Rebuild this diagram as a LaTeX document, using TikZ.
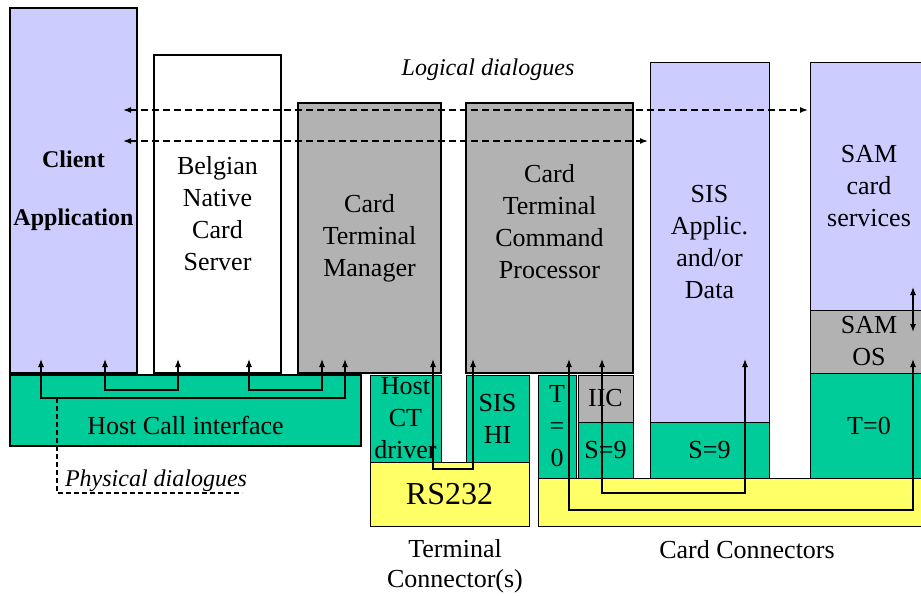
\documentclass[tikz,border=0pt]{standalone}
\usepackage{fontspec}
\setmainfont{Liberation Serif}
\usetikzlibrary{arrows.meta}
\definecolor{lav}{HTML}{CCCCFF}
\definecolor{grey}{HTML}{B2B2B2}
\definecolor{grn}{HTML}{00CC99}
\definecolor{yel}{HTML}{FFFF66}
\begin{document}
\begin{tikzpicture}[x=1pt,y=-1pt,>={Latex[length=8pt,width=6pt]},
  big/.style={draw, line width=2.5pt},
  small/.style={draw, line width=1pt},
  lbl/.style={font=\fontsize{26}{32}\selectfont, align=center, inner sep=0pt},
  link/.style={<->, line width=1.2pt},
  dlg/.style={line width=1.5pt, dash pattern=on 7pt off 4pt}]
\useasboundingbox (0,0) rectangle (921,596);
{\centering
% upper layer
\draw[big, fill=lav] (10,8) rectangle node[lbl, font=\fontsize{24}{29}\selectfont\bfseries] (client) {Client\\[29pt]Application} (137,373);
\draw[big, fill=white] (154,55) rectangle node[lbl] (server) {Belgian\\Native\\Card\\Server} (281,373);
\draw[big, fill=grey] (298,103) rectangle node[lbl] (ctm) {Card\\Terminal\\Manager} (441,373);
\draw[big, fill=grey] (466,103) rectangle node[lbl, yshift=16pt] (ctcp) {Card\\Terminal\\Command\\Processor} (633,373);
\draw[small, fill=lav] (650,63) rectangle node[lbl] (sis) {SIS\\Applic.\\and/or\\Data} (769,422);
\draw[small, fill=lav] (810,63) rectangle node[lbl] (sam) {SAM\\card\\services} (928,310);
\draw[small, fill=grey] (810,310) rectangle node[lbl] (samos) {SAM\\OS} (928,373);
% lower layer
\draw[big, fill=grn] (10,375) rectangle node[lbl, yshift=-15pt] (hci) {Host Call interface} (361,446);
\draw[small, fill=grn] (370,375) rectangle node[lbl] (ctdrv) {Host\\CT\\driver} (441,462);
\draw[small, fill=grn] (466,375) rectangle node[lbl] (sishi) {SIS\\HI} (529,462);
\draw[small, fill=yel] (370,462) rectangle node[lbl, font=\fontsize{32}{38}\selectfont] (rs) {RS232} (529,526);
\draw[small, fill=grn] (538,375) rectangle node[lbl] (tzero) {T\\=\\0} (576,478);
\draw[small, fill=grey] (578,375) rectangle node[lbl] (iic) {IIC} (633,422);
\draw[small, fill=grn] (578,422) rectangle node[lbl] (sninea) {S=9} (633,478);
\draw[small, fill=grn] (650,422) rectangle node[lbl] (snineb) {S=9} (769,478);
\draw[small, fill=grn] (810,373) rectangle node[lbl] (samt) {T=0} (928,478);
\draw[small, fill=yel] (538,478) rectangle (928,526);
% arrow ends
\coordinate (cl-a) at (41,359);
\coordinate (cl-b) at (105,359);
\coordinate (bn-a) at (178,359);
\coordinate (bn-b) at (249,359);
\coordinate (tm-a) at (322,359);
\coordinate (tm-b) at (345,359);
\coordinate (tm-c) at (433,359);
\coordinate (cp-a) at (473,359);
\coordinate (cp-b) at (569,359);
\coordinate (cp-c) at (602,359);
\coordinate (sis-a) at (745,359);
\coordinate (os-a) at (913,359);
\coordinate (sv-a) at (913,287);
\coordinate (sv-b) at (913,332);
\draw[link] (cl-a) -- ++(0,39) -| (tm-b);
\draw[link] (cl-b) -- ++(0,31) -| (bn-a);
\draw[link] (bn-b) -- ++(0,31) -| (tm-a);
\draw[link] (tm-c) -- ++(0,110) -| (cp-a);
\draw[link] (cp-b) -- ++(0,151) -| (os-a);
\draw[link] (cp-c) -- ++(0,134) -| (sis-a);
\draw[link] (sv-a) -- (sv-b);
% dialogues
\coordinate (lg-l1) at (123,110);
\coordinate (lg-r1) at (808,110);
\coordinate (lg-l2) at (123,141);
\coordinate (lg-r2) at (648,141);
\draw[dlg, <->] (lg-l1) -- (lg-r1);
\draw[dlg, <->] (lg-l2) -- (lg-r2);
\coordinate (ph-a) at (57,398);
\coordinate (ph-b) at (242,493);
\draw[dlg, dash pattern=on 5pt off 3pt] (ph-a) |- (ph-b);
\node[lbl, font=\fontsize{24}{29}\selectfont\itshape, anchor=base] (logical) at (488,76) {Logical dialogues};
\node[lbl, font=\fontsize{24}{29}\selectfont\itshape, anchor=base] (physical) at (156,486) {Physical dialogues};
\node[lbl, font=\fontsize{26}{30}\selectfont] (termconn) at (455,566) {Terminal\\Connector(s)};
\node[lbl, anchor=base] (cardconn) at (747,558) {Card Connectors};
}
\end{tikzpicture}
\end{document}
